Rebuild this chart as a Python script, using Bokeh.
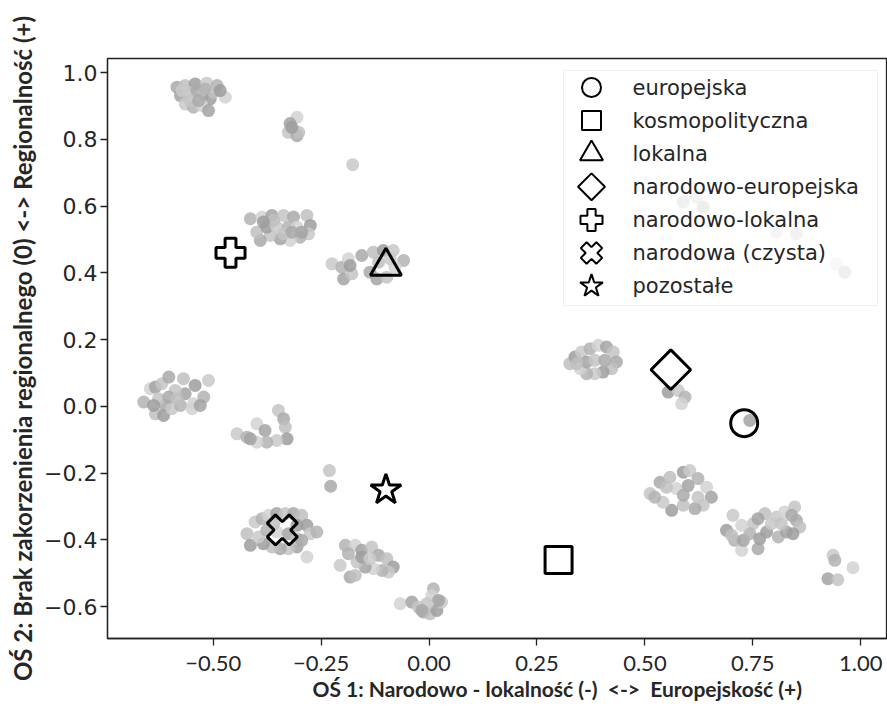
import math
from bokeh.plotting import figure
from bokeh.models import ColumnDataSource, FixedTicker, Range1d, BoxAnnotation, Label, Title
from bokeh.embed import file_html
from bokeh.resources import INLINE

# ---------------- data ----------------
point_x = [
    # top-left group
    -0.584, -0.565, -0.542, -0.515, -0.491, -0.472, -0.576, -0.557, -0.538, -0.522, -0.507,
    -0.565, -0.546, -0.526, -0.511, -0.553, -0.534, -0.499, -0.484, -0.572, -0.519,
    -0.306, -0.322, -0.326, -0.306, -0.302, -0.318,
    -0.177,
    -0.414, -0.387, -0.364, -0.337, -0.314, -0.283, -0.275, -0.279, -0.299, -0.322, -0.345,
    -0.368, -0.391, -0.399, -0.376, -0.353, -0.326, -0.306, -0.295, -0.337, -0.318, -0.360, -0.384,
    -0.225, -0.202, -0.187, -0.198, -0.179, -0.156, -0.129, -0.106, -0.083, -0.059, -0.079,
    -0.121, -0.098, -0.137, -0.117, -0.183, -0.090,
    # left middle
    -0.661, -0.646, -0.634, -0.619, -0.603, -0.569, -0.542, -0.511, -0.522, -0.546, -0.565,
    -0.588, -0.611, -0.634, -0.615, -0.596, -0.576, -0.549, -0.530, -0.627, -0.603, -0.584, -0.638,
    -0.445, -0.422, -0.399, -0.380, -0.349, -0.337, -0.333, -0.329, -0.353, -0.376, -0.399, -0.414,
    -0.231, -0.228,
    # bottom left
    -0.422, -0.414, -0.403, -0.387, -0.372, -0.353, -0.333, -0.314, -0.295, -0.283, -0.275, -0.260,
    -0.283, -0.306, -0.326, -0.345, -0.364, -0.384, -0.395, -0.376, -0.353, -0.326, -0.306, -0.295,
    -0.360, -0.306,
    -0.206, -0.194, -0.171, -0.156, -0.133, -0.117, -0.098, -0.083, -0.094, -0.109, -0.129, -0.148,
    -0.167, -0.183, -0.171, -0.156, -0.137, -0.187,
    -0.067, -0.040, -0.025, -0.013, 0.002, 0.018, 0.029, 0.010, 0.006, 0.022, -0.005, -0.017,
    # right side
    0.326, 0.338, 0.353, 0.373, 0.392, 0.411, 0.427, 0.434, 0.423, 0.403, 0.384, 0.365, 0.350,
    0.365, 0.384, 0.407, 0.342,
    0.554, 0.577, 0.593, 0.585,
    0.743,
    0.512, 0.535, 0.558, 0.589, 0.604, 0.623, 0.643, 0.654, 0.635, 0.616, 0.589, 0.562, 0.542,
    0.523, 0.573, 0.600, 0.623, 0.589, 0.550,
    0.689, 0.704, 0.708, 0.724, 0.728, 0.751, 0.762, 0.778, 0.782, 0.805, 0.809, 0.824, 0.828,
    0.847, 0.851, 0.859, 0.843, 0.793, 0.743, 0.724, 0.762, 0.816, 0.840, 0.701, 0.766,
    0.936, 0.940, 0.982, 0.924, 0.947,
    # behind the legend
    0.589, 0.620, 0.635, 0.805, 0.851, 0.944, 0.963, 0.635,
]
point_y = [
    0.956, 0.961, 0.966, 0.968, 0.961, 0.926, 0.931, 0.941, 0.946, 0.936, 0.921,
    0.906, 0.896, 0.901, 0.886, 0.916, 0.916, 0.941, 0.946, 0.946, 0.951,
    0.866, 0.847, 0.821, 0.811, 0.821, 0.836,
    0.724,
    0.562, 0.567, 0.572, 0.572, 0.567, 0.572, 0.542, 0.517, 0.507, 0.497, 0.502,
    0.512, 0.497, 0.522, 0.537, 0.537, 0.537, 0.537, 0.522, 0.517, 0.522, 0.557, 0.552,
    0.427, 0.417, 0.442, 0.382, 0.397, 0.452, 0.462, 0.467, 0.467, 0.437, 0.417,
    0.382, 0.387, 0.402, 0.432, 0.422, 0.442,
    0.013, 0.053, 0.058, 0.068, 0.088, 0.083, 0.063, 0.078, 0.028, 0.008, 0.038,
    0.048, 0.003, -0.022, -0.027, -0.007, 0.003, -0.007, 0.003, 0.023, 0.028, 0.023, 0.003,
    -0.082, -0.092, -0.052, -0.072, -0.012, -0.037, -0.062, -0.097, -0.102, -0.107, -0.107, -0.097,
    -0.192, -0.239,
    -0.381, -0.416, -0.346, -0.336, -0.326, -0.321, -0.321, -0.321, -0.326, -0.356, -0.381, -0.376,
    -0.451, -0.421, -0.426, -0.426, -0.421, -0.411, -0.391, -0.371, -0.376, -0.381, -0.396, -0.401,
    -0.351, -0.356,
    -0.476, -0.416, -0.416, -0.431, -0.421, -0.446, -0.456, -0.481, -0.496, -0.491, -0.486, -0.481,
    -0.466, -0.511, -0.506, -0.451, -0.456, -0.441,
    -0.591, -0.586, -0.601, -0.616, -0.621, -0.611, -0.586, -0.546, -0.567, -0.581, -0.591, -0.611,
    0.128, 0.148, 0.163, 0.173, 0.183, 0.178, 0.163, 0.133, 0.113, 0.103, 0.098, 0.098, 0.113,
    0.133, 0.138, 0.138, 0.128,
    0.043, 0.048, 0.028, 0.008,
    -0.042,
    -0.261, -0.227, -0.212, -0.197, -0.192, -0.216, -0.242, -0.272, -0.296, -0.306, -0.296, -0.311, -0.287,
    -0.272, -0.246, -0.237, -0.272, -0.266, -0.242,
    -0.371, -0.326, -0.401, -0.431, -0.401, -0.351, -0.426, -0.321, -0.376, -0.331, -0.391, -0.316, -0.376,
    -0.301, -0.341, -0.361, -0.381, -0.351, -0.381, -0.356, -0.336, -0.351, -0.326, -0.386, -0.396,
    -0.446, -0.461, -0.483, -0.516, -0.519,
    0.612, 0.627, 0.597, 0.522, 0.517, 0.427, 0.402, 0.936,
]

categories = ["europejska", "kosmopolityczna", "lokalna", "narodowo-europejska",
              "narodowo-lokalna", "narodowa (czysta)", "pozostałe"]
cat_x = [0.73, 0.30, -0.10, 0.56, -0.46, -0.34, -0.10]
cat_y = [-0.05, -0.46, 0.42, 0.11, 0.46, -0.37, -0.25]

x_ticks = [-0.5, -0.25, 0.0, 0.25, 0.5, 0.75, 1.0]
x_tick_labels = ["\u22120.50", "\u22120.25", "0.00", "0.25", "0.50", "0.75", "1.00"]
y_ticks = [-0.6, -0.4, -0.2, 0.0, 0.2, 0.4, 0.6, 0.8, 1.0]
y_tick_labels = ["\u22120.6", "\u22120.4", "\u22120.2", "0.0", "0.2", "0.4", "0.6", "0.8", "1.0"]

x_title = "OŚ 1: Narodowo - lokalność (-)\u00a0 <->\u00a0 Europejskość (+)"
y_title = "OŚ 2: Brak zakorzenienia regionalnego (0) <-> Regionalność (+)"

# ---------------- styles / layout ----------------
X0, X1 = -0.745, 1.062
Y0, Y1 = -0.695, 1.042
W, H = 887, 706
BL, BR, BT, BB = 107, 0, 58, 68
FW, FH = W - BL - BR, H - BT - BB

def fx(px):
    return X0 + (px - BL) * (X1 - X0) / FW

def fy(py):
    return Y1 - (py - BT) * (Y1 - Y0) / FH

greys = ["#a9a9a9", "#bfbfbf", "#9d9d9d", "#c9c9c9", "#b3b3b3", "#d2d2d2", "#a3a3a3", "#c4c4c4"]
point_colors = [greys[i % len(greys)] for i in range(len(point_x))]

marker_style = {
    "europejska": ("circle", 0.0),
    "kosmopolityczna": ("square", 0.0),
    "lokalna": ("triangle", 0.0),
    "narodowo-europejska": ("square", math.pi / 4),
    "narodowo-lokalna": ("plus", 0.0),
    "narodowa (czysta)": ("plus", math.pi / 4),
    "pozostałe": ("star", 0.0),
}
plot_sizes = {"europejska": 27, "kosmopolityczna": 27, "lokalna": 31, "narodowo-europejska": 28,
              "narodowo-lokalna": 29, "narodowa (czysta)": 31, "pozostałe": 32}
legend_sizes = {"europejska": 19, "kosmopolityczna": 19, "lokalna": 23, "narodowo-europejska": 19,
                "narodowo-lokalna": 22, "narodowa (czysta)": 22, "pozostałe": 24}

p = figure(width=W, height=H, x_range=Range1d(X0, X1), y_range=Range1d(Y0, Y1),
           output_backend="svg", toolbar_location=None,
           min_border_left=BL, min_border_right=BR, min_border_top=BT, min_border_bottom=BB)
p.xgrid.visible = False
p.ygrid.visible = False
p.outline_line_color = "#222222"
p.outline_line_width = 1.3
p.background_fill_color = "white"
p.border_fill_color = "white"

src = ColumnDataSource(dict(x=point_x, y=point_y, c=point_colors))
p.scatter("x", "y", source=src, size=13, fill_color="c", fill_alpha=0.85, line_color=None)

for i, name in enumerate(categories):
    mk, ang = marker_style[name]
    s = ColumnDataSource(dict(x=[cat_x[i]], y=[cat_y[i]]))
    p.scatter("x", "y", source=s, marker=mk, size=plot_sizes[name], angle=ang,
              fill_alpha=0.0, line_color="black", line_width=3)

# ---------------- legend (drawn by hand) ----------------
p.add_layout(BoxAnnotation(left=fx(563), right=fx(877), top=fy(70), bottom=fy(305),
                           fill_color="white", fill_alpha=0.8,
                           line_color="#cccccc", line_width=1))
row_py = [87 + 33.1 * k for k in range(len(categories))]
for k, name in enumerate(categories):
    mk, ang = marker_style[name]
    ls = ColumnDataSource(dict(x=[fx(591)], y=[fy(row_py[k])]))
    p.scatter("x", "y", source=ls, marker=mk, size=legend_sizes[name], angle=ang,
              fill_alpha=0.0, line_color="black", line_width=2, level="overlay")
    p.add_layout(Label(x=fx(632), y=fy(row_py[k]), text=name, text_baseline="middle",
                       text_align="left", text_font="DejaVu Sans", text_font_size="21px",
                       text_color="#262626"))

for ax in (p.xaxis[0], p.yaxis[0]):
    ax.axis_line_color = "#222222"
    ax.axis_line_width = 1.3
    ax.major_tick_line_color = "#222222"
    ax.major_tick_line_width = 1.3
    ax.major_tick_out = 7
    ax.major_tick_in = 0
    ax.minor_tick_line_color = None
    ax.major_label_text_color = "#262626"
    ax.axis_label_text_color = "#262626"
    ax.axis_label_text_font_style = "bold"
    ax.axis_label_text_font = "Lato"

p.xaxis.ticker = FixedTicker(ticks=x_ticks)
p.xaxis.major_label_overrides = {t: l for t, l in zip(x_ticks, x_tick_labels)}
p.xaxis.major_label_text_font = "Lato"
p.xaxis.major_label_text_font_size = "22px"
p.xaxis.major_label_standoff = 10

# x-axis title, placed under the axis where the reference shows it
p.add_layout(Title(text=x_title, align="left", offset=205, standoff=0,
                   text_font="Lato", text_font_style="bold", text_font_size="21px",
                   text_color="#262626"), "below")

p.yaxis.ticker = FixedTicker(ticks=y_ticks)
p.yaxis.major_label_overrides = {t: l for t, l in zip(y_ticks, y_tick_labels)}
p.yaxis.major_label_text_font = "DejaVu Sans"
p.yaxis.major_label_text_font_size = "22px"
p.yaxis.major_label_standoff = 3
p.yaxis.axis_label = y_title
p.yaxis.axis_label_text_font_size = "24px"
p.yaxis.axis_label_standoff = 4

open("out.html", "w").write(file_html(p, INLINE))
